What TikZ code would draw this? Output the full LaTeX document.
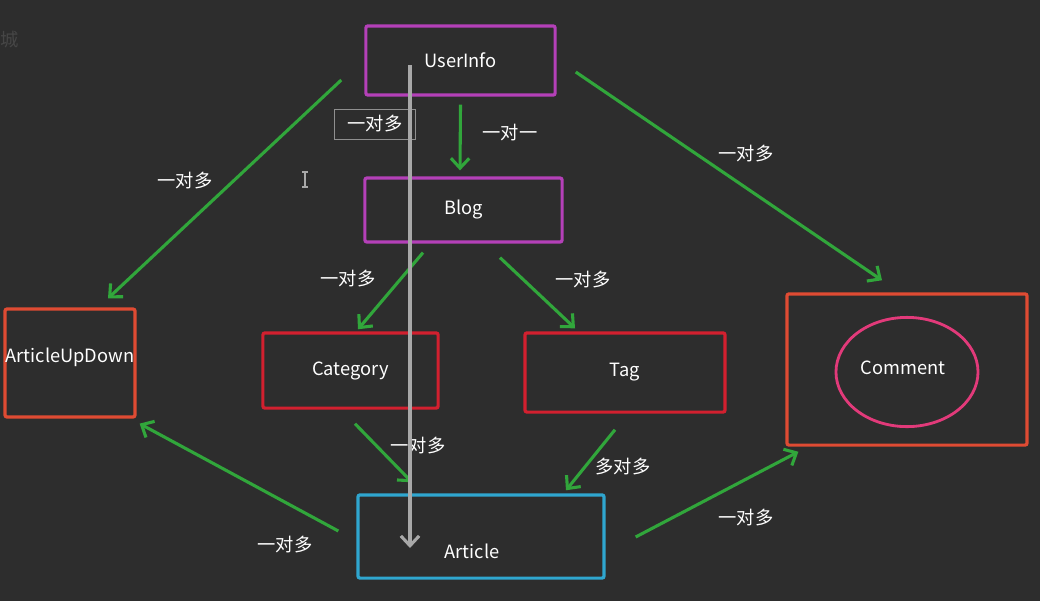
\documentclass[tikz,border=0pt]{standalone}
\usepackage{fontspec}
\setmainfont{Noto Sans CJK SC}
\usetikzlibrary{arrows.meta,positioning,shapes.geometric}

\definecolor{bgclr}{HTML}{2D2D2D}
\definecolor{userclr}{HTML}{B440B8}
\definecolor{catclr}{HTML}{D2202F}
\definecolor{updclr}{HTML}{DF4B33}
\definecolor{pinkclr}{HTML}{E23A7A}
\definecolor{artclr}{HTML}{2FA6CF}
\definecolor{relclr}{HTML}{31A63B}
\definecolor{greyclr}{HTML}{A8A8A8}

\tikzset{
  box/.style={draw=#1,line width=2.3pt,rounded corners=1.5pt,text=white,
    font=\fontsize{13}{15}\selectfont},
  rel/.style={draw=relclr,line width=2.2pt,-{Straight Barb[length=7pt,width=13pt]}},
  lbl/.style={text=white,font=\fontsize{13}{15}\selectfont,inner sep=1pt},
}

\begin{document}
\begin{tikzpicture}[x=0.025cm,y=-0.025cm]
  \fill[bgclr] (0,0) rectangle (1040,601);   %Background
  \useasboundingbox (0,0) rectangle (1040,601);

  \node[text=white!12!bgclr,font=\fontsize{13}{15}\selectfont] (cheng) at (10,40) {城};

  %Tables
  \node[box=userclr,minimum width=4.73cm,minimum height=1.73cm] (userinfo) at (460.5,60.5) {UserInfo};
  \node[box=userclr,minimum width=4.93cm,minimum height=1.6cm] (blog) at (463.5,210) {Blog};
  \node[box=catclr,minimum width=4.38cm,minimum height=1.88cm] (category) at (350.5,370.5) {Category};
  \node[box=catclr,minimum width=5.0cm,minimum height=1.98cm] (tag) at (625,372.5) {Tag};
  \node[box=updclr,minimum width=3.25cm,minimum height=2.7cm,inner sep=0pt] (articleupdown) at (70,363) {};
  \node[lbl] (updtext) at (70,357) {ArticleUpDown};
  \node[box=updclr,minimum width=6.0cm,minimum height=3.78cm] (comment) at (907,369.5) {};
  \node[ellipse,draw=pinkclr,line width=2pt,minimum width=3.55cm,minimum height=2.73cm] (commentell) at (907,372) {};
  \node[lbl] (commenttext) at (903,368) {Comment};
  \node[box=artclr,minimum width=6.15cm,minimum height=2.08cm] (article) at (481,536.5) {};
  \node[lbl] (arttext) at (472,551) {Article};

  %Relations
  \draw[rel] ([shift={(-23,19.5)}]userinfo.west) -- ([shift={(38,-9)}]articleupdown.north);
  \draw[rel] ([shift={(0,8)}]userinfo.south) -- ([shift={(-3.5,-6)}]blog.north);
  \draw[rel] ([shift={(19,11.5)}]userinfo.east) -- ([shift={(-25,-12)}]comment.north);
  \draw[rel] ([shift={(-40.5,9)}]blog.south) -- ([shift={(7.5,-2)}]category.north);
  \draw[rel] ([shift={(36.5,14)}]blog.south) -- ([shift={(-50,-3)}]tag.north);
  \draw[rel] ([shift={(4.5,14)}]category.south) -- ([shift={(-69,-11)}]article.north);
  \draw[rel] ([shift={(-10,16)}]tag.south) -- ([shift={(85,-3)}]article.north);
  \draw[rel] ([shift={(-18,-5.5)}]article.west) -- ([shift={(3,5)}]articleupdown.south east);
  \draw[rel] ([shift={(30,0.5)}]article.east) -- ([shift={(13,5)}]comment.south west);

  \node[lbl] (l1) at (185,181) {一对多};
  \node[lbl] (l2) at (510,133) {一对一};
  \node[lbl] (l3) at (746,154) {一对多};
  \node[lbl] (l4) at (348,279) {一对多};
  \node[lbl] (l5) at (583,280) {一对多};
  \node[lbl] (l6) at (418,446) {一对多};
  \node[lbl] (l7) at (623,467) {多对多};
  \node[lbl] (l8) at (285,545) {一对多};
  \node[lbl] (l9) at (746,518) {一对多};

  %Grey arrow UserInfo -> Article
  \node[lbl,draw=greyclr!80!bgclr,line width=0.7pt,minimum width=2.03cm,minimum height=0.75cm] (greylbl) at (375,124) {一对多};
  \draw[greyclr,line width=2.2pt,-{Straight Barb[length=7pt,width=13pt]}]
    ([shift={(-50.5,4.5)}]userinfo.center) -- ([shift={(-71,11.5)}]article.center);

  %Cursor
  \draw[greyclr,line width=0.8pt] (305,172) -- (305,187) (302,172) -- (308,172) (302,187) -- (308,187);
\end{tikzpicture}
\end{document}
